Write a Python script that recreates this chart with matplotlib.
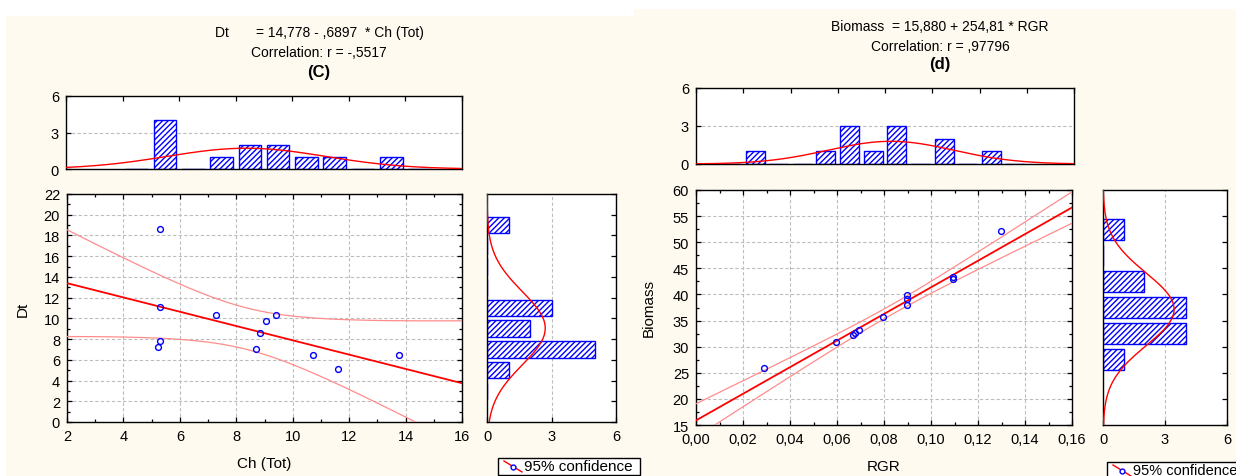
import numpy as np
import matplotlib
matplotlib.use("Agg")
import matplotlib.pyplot as plt
from matplotlib.patches import Rectangle
from matplotlib.lines import Line2D
from matplotlib.ticker import MultipleLocator, FuncFormatter, NullFormatter

plt.rcParams['font.family'] = ['Liberation Sans', 'DejaVu Sans']
plt.rcParams['hatch.linewidth'] = 1.0

# ---------------- data: panel (C) ----------------
ch_tot = [5.30, 5.30, 5.30, 5.22, 7.27, 9.05, 9.40, 8.83, 8.69, 10.73, 11.60, 13.78]
dt = [18.6, 11.1, 7.8, 7.2, 10.3, 9.7, 10.3, 8.6, 7.0, 6.45, 5.1, 6.45]
c_intercept, c_slope = 14.778, -0.6897
c_title = ["Dt       = 14,778 - ,6897  * Ch (Tot)", "Correlation: r = -,5517", "(C)"]
c_xlabel, c_ylabel = "Ch (Tot)", "Dt"
c_xedges = [4, 5, 6, 7, 8, 9, 10, 11, 12, 13, 14, 15]
c_yedges = [2, 4, 6, 8, 10, 12, 14, 16, 18, 20]

# ---------------- data: panel (d) ----------------
rgr = [0.029, 0.0597, 0.0667, 0.0677, 0.0692, 0.0796, 0.0897, 0.0897, 0.0898, 0.1092, 0.1093, 0.1298]
biomass = [26.0, 30.95, 32.2, 32.6, 33.25, 35.6, 39.9, 39.07, 37.9, 42.96, 43.3, 52.1]
d_intercept, d_slope = 15.880, 254.81
d_title = ["Biomass  = 15,880 + 254,81 * RGR", "Correlation: r = ,97796", "(d)"]
d_xlabel, d_ylabel = "RGR", "Biomass"
d_xedges = [0.01, 0.02, 0.03, 0.04, 0.05, 0.06, 0.07, 0.08, 0.09, 0.10, 0.11, 0.12, 0.13, 0.14]
d_yedges = [25, 30, 35, 40, 45, 50, 55]

hist_ticks = [0, 3, 6]
legend_text = "95% confidence"
T_CRIT_10DF = 2.228

W, H = 1236, 477
CREAM = '#FFFAF0'
BLUE = '#0000FF'
RED = '#FF0000'
BAND = '#FF8C8C'
GRIDC = '#BDBDBD'
FS = 10

fig = plt.figure(figsize=(W / 100, H / 100), dpi=100)
fig.patch.set_facecolor('white')


def fx(px):
    return px / W


def fy(py):
    return 1 - py / H


def frect(x0, y0, x1, y1):
    return [fx(x0), fy(y1), fx(x1) - fx(x0), fy(y0) - fy(y1)]


# panel backgrounds
fig.add_artist(Rectangle((fx(6), fy(477)), fx(634) - fx(6), fy(17) - fy(477),
                         transform=fig.transFigure, facecolor=CREAM, edgecolor='none', zorder=-10))
fig.add_artist(Rectangle((fx(634), fy(477)), fx(1236) - fx(634), fy(10) - fy(477),
                         transform=fig.transFigure, facecolor=CREAM, edgecolor='none', zorder=-10))


def style_ax(ax):
    for s in ax.spines.values():
        s.set_color('black')
        s.set_linewidth(1.0)
    ax.tick_params(which='both', direction='in', colors='black', labelsize=FS + 0.5,
                   length=3.5, width=0.9, pad=5)
    ax.tick_params(which='minor', length=2.5)


def normal_curve(vals, bw, lo, hi):
    v = np.asarray(vals, float)
    m, s = v.mean(), v.std(ddof=1)
    g = np.linspace(lo, hi, 300)
    return g, len(v) * bw * np.exp(-0.5 * ((g - m) / s) ** 2) / (s * np.sqrt(2 * np.pi))


def panel(x, y, b0, b1, rects, xlim, ylim, xmaj, xmin, ymaj, ymin, xedges, yedges,
          xlabel, ylabel, title, tcx, tys, xfmt, ylab_x, xlab_y, leg, leg_fs):
    x = np.asarray(x, float)
    y = np.asarray(y, float)
    r_top, r_sc, r_rh = rects

    # ---- scatter ----
    ax = fig.add_axes(frect(*r_sc))
    ax.set_facecolor('white')
    style_ax(ax)
    ax.set_xlim(*xlim)
    ax.set_ylim(*ylim)
    ax.xaxis.set_major_locator(MultipleLocator(xmaj))
    ax.xaxis.set_minor_locator(MultipleLocator(xmin))
    ax.yaxis.set_major_locator(MultipleLocator(ymaj))
    ax.yaxis.set_minor_locator(MultipleLocator(ymin))
    ax.xaxis.set_major_formatter(FuncFormatter(xfmt))
    ax.tick_params(which='both', top=True, right=True)
    ax.grid(True, which='major', color=GRIDC, linestyle=(0, (3, 2)), linewidth=0.8)
    ax.set_axisbelow(True)
    n = len(x)
    xm = x.mean()
    sxx = np.sum((x - xm) ** 2)
    s = np.sqrt(np.sum((y - (b0 + b1 * x)) ** 2) / (n - 2))
    g = np.linspace(xlim[0], xlim[1], 400)
    yh = b0 + b1 * g
    se = s * np.sqrt(1.0 / n + (g - xm) ** 2 / sxx)
    ax.plot(g, yh + T_CRIT_10DF * se, color=BAND, lw=0.9, zorder=3)
    ax.plot(g, yh - T_CRIT_10DF * se, color=BAND, lw=0.9, zorder=3)
    ax.plot(g, yh, color=RED, lw=1.3, zorder=4)
    ax.plot(x, y, 'o', mfc='none', mec=BLUE, ms=4.2, mew=1.0, zorder=5)
    ax.set_xlabel(xlabel, fontsize=FS + 1)
    ax.set_ylabel(ylabel, fontsize=FS + 1)
    ax.xaxis.set_label_coords(0.5, (fy(xlab_y) - fy(r_sc[3])) / (fy(r_sc[1]) - fy(r_sc[3])))
    ax.yaxis.set_label_coords((fx(ylab_x) - fx(r_sc[0])) / (fx(r_sc[2]) - fx(r_sc[0])), 0.5)

    # ---- top histogram ----
    at = fig.add_axes(frect(*r_top))
    at.set_facecolor('white')
    style_ax(at)
    at.set_xlim(*xlim)
    at.set_ylim(0, 6)
    at.set_yticks(hist_ticks)
    at.xaxis.set_major_locator(MultipleLocator(xmaj))
    at.xaxis.set_major_formatter(NullFormatter())
    at.tick_params(axis='x', which='both', bottom=False, top=True)
    at.tick_params(axis='y', right=False)
    at.grid(True, axis='y', color=GRIDC, linestyle=(0, (3, 2)), linewidth=0.8)
    at.set_axisbelow(True)
    xe = np.asarray(xedges, float)
    cnt, _ = np.histogram(x, bins=xe)
    bw = xe[1] - xe[0]
    at.bar((xe[:-1] + xe[1:]) / 2, cnt, width=0.8 * bw, facecolor='white',
           edgecolor=BLUE, hatch='//////', lw=1.0, zorder=2)
    gx, gy = normal_curve(x, bw, xlim[0], xlim[1])
    at.plot(gx, gy, color=RED, lw=1.0, zorder=3)

    # ---- right histogram ----
    ar = fig.add_axes(frect(*r_rh))
    ar.set_facecolor('white')
    style_ax(ar)
    ar.set_ylim(*ylim)
    ar.set_xlim(0, 6)
    ar.set_xticks(hist_ticks)
    ar.yaxis.set_major_locator(MultipleLocator(ymaj))
    ar.yaxis.set_major_formatter(NullFormatter())
    ar.tick_params(axis='y', which='both', left=False, right=True)
    ar.tick_params(axis='x', top=False)
    ar.grid(True, axis='x', color=GRIDC, linestyle=(0, (3, 2)), linewidth=0.8)
    ar.set_axisbelow(True)
    ye = np.asarray(yedges, float)
    cnt, _ = np.histogram(y, bins=ye)
    bh = ye[1] - ye[0]
    ar.barh((ye[:-1] + ye[1:]) / 2, cnt, height=0.8 * bh, facecolor='white',
            edgecolor=BLUE, hatch='//////', lw=1.0, zorder=2)
    gyv, gxv = normal_curve(y, bh, ylim[0], ylim[1])
    ar.plot(gxv, gyv, color=RED, lw=1.0, zorder=3)

    # ---- titles ----
    for txt, ty, bold in zip(title, tys, [False, False, True]):
        fig.text(fx(tcx), fy(ty), txt, ha='center', va='center', fontsize=FS + (2 if bold else 0),
                 fontweight='bold' if bold else 'normal')

    # ---- legend ----
    lx0, ly0, lx1, ly1 = leg
    fig.add_artist(Rectangle((fx(lx0), fy(ly1)), fx(lx1) - fx(lx0), fy(ly0) - fy(ly1),
                             transform=fig.transFigure, facecolor='white', edgecolor='black',
                             lw=1.0, zorder=5))
    fig.add_artist(Line2D([fx(lx0 + 6), fx(lx0 + 24)], [fy(ly0 + 3), fy(ly0 + 14)],
                          transform=fig.transFigure, color=RED, lw=1.0, zorder=6))
    fig.add_artist(Line2D([fx(lx0 + 15)], [fy(ly0 + 8.5)], transform=fig.transFigure,
                          marker='o', mfc='white', mec=BLUE, ms=3.5, mew=1.0, ls='none', zorder=7))
    fig.text(fx(lx0 + 26), fy(ly0 + 8.5), legend_text, ha='left', va='center',
             fontsize=leg_fs, zorder=7)


panel(ch_tot, dt, c_intercept, c_slope,
      [(66, 97, 462, 170), (67, 195, 462, 423), (487, 195, 616, 423)],
      (2, 16), (0, 22), 2, 1, 2, 1, c_xedges, c_yedges, c_xlabel, c_ylabel,
      c_title, 319, [33, 53, 72], lambda v, p: f"{v:g}", 30, 457, (498, 459, 640, 476), FS + 1)

panel(rgr, biomass, d_intercept, d_slope,
      [(696, 89, 1074, 165), (696, 191, 1072, 426), (1103, 191, 1227, 426)],
      (0, 0.16), (15, 60), 0.02, 0.01, 5, 2.5, d_xedges, d_yedges, d_xlabel, d_ylabel,
      d_title, 940, [27, 47, 65], lambda v, p: f"{v:.2f}".replace('.', ','), 656, 460,
      (1107, 463, 1245, 482), FS + 0.5)

fig.savefig("out.png", dpi=100)
